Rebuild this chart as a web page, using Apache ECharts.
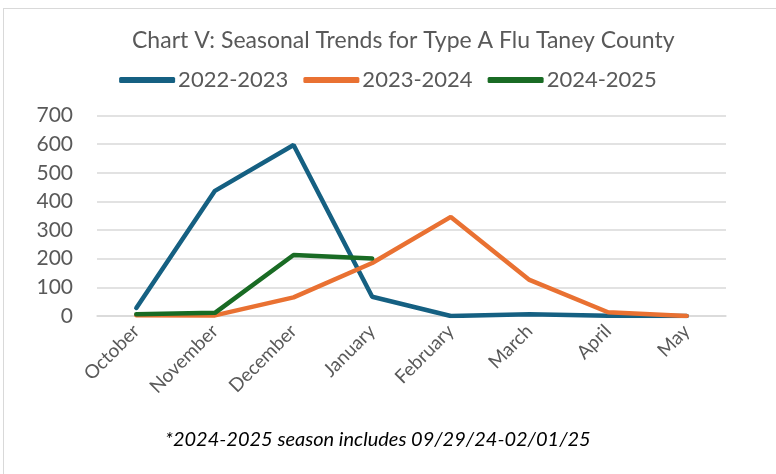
<!DOCTYPE html>
<html>
<head>
<meta charset="utf-8">
<script src="https://cdn.jsdelivr.net/npm/echarts@6/dist/echarts.min.js"></script>
<style>
html, body { margin: 0; padding: 0; background: #fff; overflow: hidden; }
#frame {
  position: absolute; left: 3px; top: 8px; width: 800px; height: 500px;
  border: 1.5px solid #d9d9d9; box-sizing: border-box;
}
#chart { position: absolute; left: 0; top: 0; width: 776px; height: 474px; }
</style>
</head>
<body>
<div id="frame"></div>
<div id="chart"></div>
<script>
// 月份（10月到5月）
var months = ['October', 'November', 'December', 'January', 'February', 'March', 'April', 'May'];
var yTicks = [0, 100, 200, 300, 400, 500, 600, 700];

var season2223 = [28, 437, 597, 67, 0, 6, 1, 0];
var season2324 = [3, 2, 65, 185, 346, 126, 13, 0];
var season2425 = [6, 11, 213, 201];

var seasonNames = ['2022-2023', '2023-2024', '2024-2025'];
var seasonColors = ['#156082', '#e97132', '#196b24'];

var fontFamily = 'Lato, "Open Sans", sans-serif';

function makeLine(name, data, color) {
  return {
    name: name,
    type: 'line',
    data: data,
    symbol: 'none',
    smooth: false,
    lineStyle: { width: 4.5, color: color, cap: 'round' },
    itemStyle: { color: color }
  };
}

var option = {
  animation: false,
  textStyle: { fontFamily: fontFamily },
  title: [
    {
      text: 'Chart V: Seasonal Trends for Type A Flu Taney County',
      left: 127,
      top: 24,
      textStyle: { fontSize: 23, fontWeight: 'normal', color: '#595959', fontFamily: fontFamily }
    },
    {
      text: '*2024-2025 season includes 09/29/24-02/01/25',
      left: 160,
      top: 425,
      textStyle: { fontSize: 20, fontWeight: 'normal', fontStyle: 'italic', color: '#000', fontFamily: fontFamily }
    }
  ],
  legend: {
    top: 64,
    left: 'center',
    icon: 'roundRect',
    itemWidth: 56,
    itemHeight: 6,
    itemGap: 15,
    textStyle: { fontSize: 22, color: '#595959', padding: [0, 0, 0, -2] },
    data: seasonNames
  },
  grid: { left: 97, right: 50, top: 115.5, bottom: 158 },
  xAxis: {
    type: 'category',
    data: months,
    boundaryGap: true,
    axisTick: { show: false },
    axisLine: { lineStyle: { color: '#d9d9d9', width: 1.5 } },
    axisLabel: { rotate: 45, interval: 0, fontSize: 19, color: '#595959', margin: 12 }
  },
  yAxis: {
    type: 'value',
    min: yTicks[0],
    max: yTicks[yTicks.length - 1],
    interval: 100,
    axisLine: { show: false },
    axisTick: { show: false },
    axisLabel: { fontSize: 21, color: '#595959', margin: 24 },
    splitLine: { lineStyle: { color: '#d9d9d9', width: 1.5 } }
  },
  series: [
    makeLine(seasonNames[0], season2223, seasonColors[0]),
    makeLine(seasonNames[1], season2324, seasonColors[1]),
    makeLine(seasonNames[2], season2425, seasonColors[2])
  ]
};

var myChart = echarts.init(document.getElementById('chart'));
myChart.setOption(option);
</script>
</body>
</html>
